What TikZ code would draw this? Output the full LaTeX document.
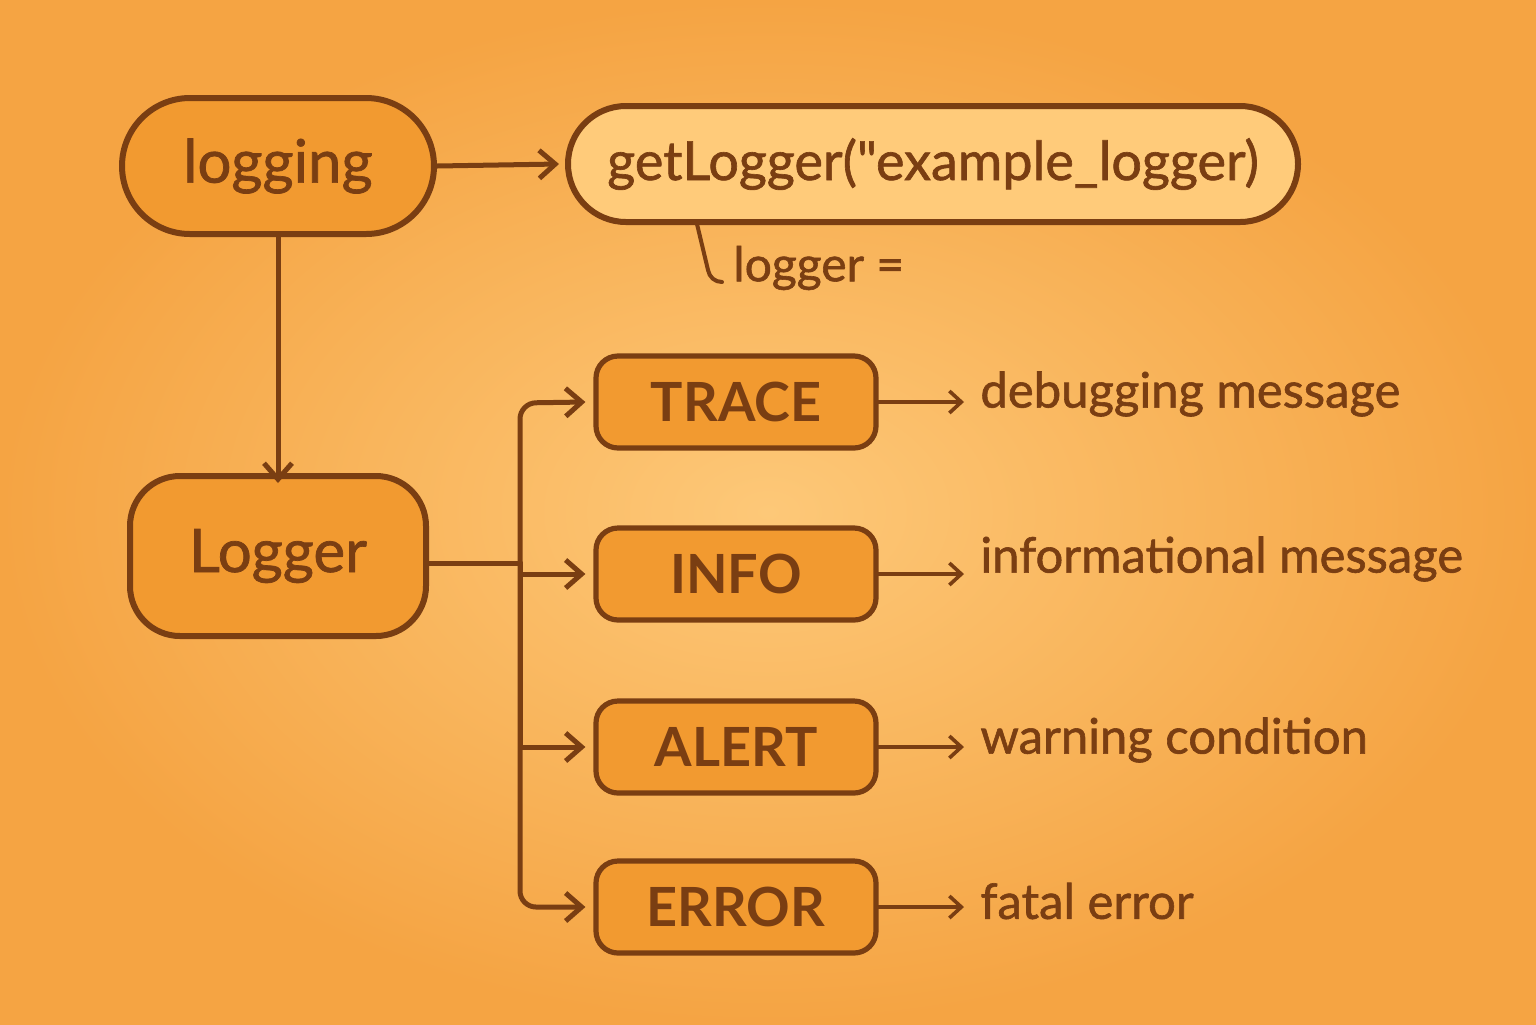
\documentclass[tikz,border=0pt]{standalone}
\usepackage{fontspec}
\setmainfont{Lato}[UprightFeatures={FakeBold=1.2}, BoldFont={Lato Bold}]
\newfontfamily\codefont{Lato}[FakeBold=1.2]
\usetikzlibrary{arrows.meta,shapes.misc}
\definecolor{bgin}{HTML}{FDC878}
\definecolor{bgout}{HTML}{F5A443}
\definecolor{nodefill}{HTML}{F29A30}
\definecolor{lightfill}{HTML}{FFCB7A}
\definecolor{ink}{HTML}{7A3E12}
\tikzset{
  x=0.5pt, y=-0.5pt,
  pill/.style={draw=ink, line width=3pt, fill=nodefill, text=ink, rounded rectangle, inner sep=0pt},
  levelbox/.style={draw=ink, line width=2.6pt, fill=nodefill, text=ink, rounded corners=11pt,
     minimum width=140pt, minimum height=46pt, inner sep=0pt, font=\fontsize{27}{30}\selectfont\bfseries},
  conn/.style={draw=ink, line width=2.5pt, line cap=round, line join=round},
  arr/.style={conn, -{Straight Barb[length=8pt,width=14pt,line width=2.5pt]}},
  sarr/.style={draw=ink, line width=1.8pt, line cap=round, -{Straight Barb[length=6pt,width=11pt,line width=1.8pt]}},
  desc/.style={text=ink, anchor=west, inner sep=0pt, font=\fontsize{24.5}{28}\selectfont}
}
\begin{document}
\begin{tikzpicture}
\useasboundingbox (0,0) rectangle (1536,1024);
\shade[inner color=bgin, outer color=bgout] (0,0) rectangle (1536,1024);

\node[pill, minimum width=156pt, minimum height=68pt, font=\fontsize{30}{32}\selectfont] (logging) at (278,166) {logging};
\node[pill, fill=lightfill, minimum width=365pt, minimum height=58pt, font=\codefont\fontsize{27}{30}\selectfont] (get) at (933,164) {getLogger("example\_logger)};
\node[draw=ink, line width=3pt, fill=nodefill, text=ink, rounded corners=25pt, minimum width=148pt, minimum height=80pt, inner sep=0pt, font=\fontsize{30}{32}\selectfont] (Logger) at (278,556) {Logger};

\coordinate (b0) at (697,224);
\coordinate (b1) at (722,282);
\node[text=ink, anchor=west, inner sep=0pt, font=\fontsize{24}{26}\selectfont] (lg) at (733,268) {logger =};
\draw[conn, line width=2pt] (b0) -- (708,270) to[out=-80,in=180] (b1);

\draw[arr] (logging.east) -- ([xshift=-3pt]get.west);
\draw[arr] (logging.south) -- ([yshift=-5pt]Logger.north);

\node[levelbox] (trace) at (736,402) {TRACE};
\node[levelbox] (info) at (736,574) {INFO};
\node[levelbox] (alert) at (736,747) {ALERT};
\node[levelbox] (error) at (736,907) {ERROR};

\coordinate (tr) at (520,563);
\draw[conn] (Logger.east |- tr) -- (tr);
\draw[arr, rounded corners=8pt] (tr) -- (520,403) -- ([xshift=-4pt]trace.west);
\draw[arr] (tr) |- ([xshift=-4pt]info.west);
\draw[arr] (tr) |- ([xshift=-4pt]alert.west);
\draw[arr, rounded corners=8pt] (tr) |- ([xshift=-4pt]error.west);

\node[desc] (d1) at (980,394) {debugging message};
\node[desc] (d2) at (980,559) {informational message};
\node[desc] (d3) at (980,740) {warning condition};
\node[desc] (d4) at (980,901) {fatal error};

\draw[sarr] (trace.east) -- ([xshift=-8pt]d1.west |- trace.east);
\draw[sarr] (info.east) -- ([xshift=-8pt]d2.west |- info.east);
\draw[sarr] (alert.east) -- ([xshift=-8pt]d3.west |- alert.east);
\draw[sarr] (error.east) -- ([xshift=-8pt]d4.west |- error.east);
\end{tikzpicture}
\end{document}
